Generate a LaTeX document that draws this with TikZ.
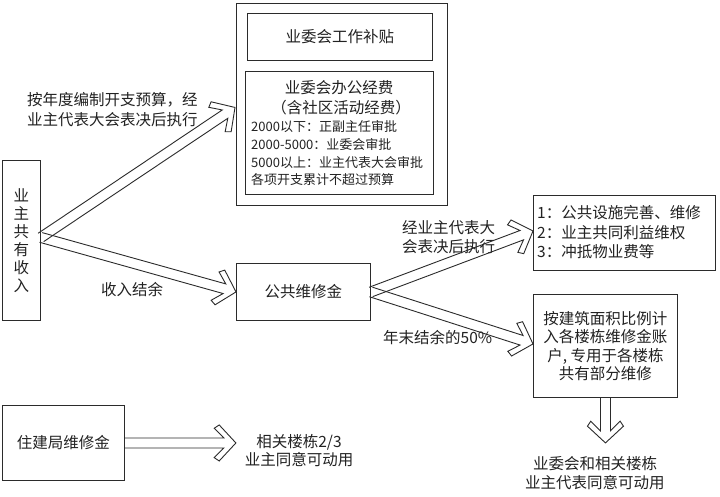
\documentclass[tikz,border=0pt]{standalone}
\usepackage{fontspec}
\setmainfont{Noto Sans CJK SC}
\usetikzlibrary{calc}
\definecolor{ln}{HTML}{2B2B2B}
\definecolor{tx}{HTML}{222222}
\tikzset{
  box/.style={draw=ln, line width=0.9pt, anchor=north west, inner sep=0pt},
  lbl/.style={text=tx, font=\fontsize{15.5}{19}\selectfont, inner sep=0pt},
  sml/.style={text=tx, font=\fontsize{13}{17.7}\selectfont, inner sep=0pt, anchor=west},
  fat/.style={draw=ln, line width=0.9pt, line join=miter},
}
\newcommand\fatarrow[2]{%
  \coordinate (fa-n) at ($(#2)!12pt!(#1)$);
  \coordinate (fa-w) at ($(#2)!21.7pt!(#1)$);
  \coordinate (fa-c) at ($(#2)!16.7pt!(#1)$);
  \draw[fat] ($(#1)!5pt!90:(#2)$) -- ($(fa-n)!5pt!-90:(#1)$)
    -- ($(fa-w)!14.7pt!-90:(#1)$) -- ($(fa-c)!18pt!-90:(#1)$) -- (#2)
    -- ($(fa-c)!18pt!90:(#1)$) -- ($(fa-w)!14.7pt!90:(#1)$)
    -- ($(fa-n)!5pt!90:(#1)$) -- ($(#1)!5pt!-90:(#2)$);
}
\begin{document}
\begin{tikzpicture}[x=1pt,y=-1pt]
\useasboundingbox[fill=white] (0,0) rectangle (720,497);

% boxes
\node[box, lbl, minimum width=38pt, minimum height=160pt, align=center,
      font=\fontsize{15.5}{18}\selectfont] (inc) at (2,160) {业\\主\\共\\有\\收\\入};
\node[box, minimum width=211pt, minimum height=202pt] (big) at (236,3) {};
\node[box, lbl, minimum width=185pt, minimum height=47pt] (sub1) at (247,13) {业委会工作补贴};
\node[box, minimum width=188pt, minimum height=123pt] (sub2) at (245,71) {};
\node[lbl] (s2a) at (339,88) {业委会办公经费};
\node[lbl] (s2b) at (341,108) {（含社区活动经费）};
\node[sml] (s2c) at (251,127) {2000以下：正副主任审批};
\node[sml] (s2d) at (251,145) {2000-5000：业委会审批};
\node[sml] (s2e) at (251,162.5) {5000以上：业主代表大会审批};
\node[sml] (s2f) at (251,180) {各项开支累计不超过预算};

\node[box, lbl, minimum width=134pt, minimum height=57pt] (fund) at (236,263) {公共维修金};
\node[box, minimum width=182pt, minimum height=75pt] (uses) at (533,195) {};
\node[lbl, anchor=west] (u1) at (537,213) {1：公共设施完善、维修};
\node[lbl, anchor=west] (u2) at (537,232.5) {2：业主共同利益维权};
\node[lbl, anchor=west] (u3) at (537,252) {3：冲抵物业费等};
\node[box, lbl, minimum width=144pt, minimum height=103pt, align=center,
      font=\fontsize{15.5}{18.5}\selectfont] (alloc) at (533,294)
      {按建筑面积比例计\\入各楼栋维修金账\\户, 专用于各楼栋\\共有部分维修};
\node[box, lbl, minimum width=122pt, minimum height=75pt] (zjj) at (2,405) {住建局维修金};

% labels
\node[lbl, anchor=west, align=left, font=\fontsize{15.5}{20}\selectfont] (l1) at (27,110)
  {按年度编制开支预算，经\\业主代表大会表决后执行};
\node[lbl] (l2) at (132,290) {收入结余};
\node[lbl, anchor=west, align=left, font=\fontsize{15.5}{18.5}\selectfont] (l3) at (402,237)
  {经业主代表大\\会表决后执行};
\node[lbl, anchor=west] (l4) at (383,338) {年末结余的50\%};
\node[lbl, align=center, font=\fontsize{15.5}{18}\selectfont] (l5) at (299,451)
  {相关楼栋2/3\\业主同意可动用};
\node[lbl, anchor=west] (l6) at (533,464) {业委会和相关楼栋};
\node[lbl, anchor=west] (l7) at (525,483) {业主代表同意可动用};

% arrows
\coordinate (ap) at ($(inc.east)+(0,-3)$);
\coordinate (t1) at ($(big.west)+(-1,3)$);
\coordinate (t3) at ($(uses.west)+(0,-2)$);
\coordinate (t4) at ($(alloc.west)+(0,-2)$);
\coordinate (t5) at ($(alloc.south)+(0,45)$);
\coordinate (t6) at ($(zjj.east)+(111,0)$);
\fatarrow{ap}{t1}
\fatarrow{ap}{fund.west}
\fatarrow{fund.east}{t3}
\fatarrow{fund.east}{t4}
\fatarrow{alloc.south}{t5}
\fatarrow{zjj.east}{t6}
\end{tikzpicture}
\end{document}
